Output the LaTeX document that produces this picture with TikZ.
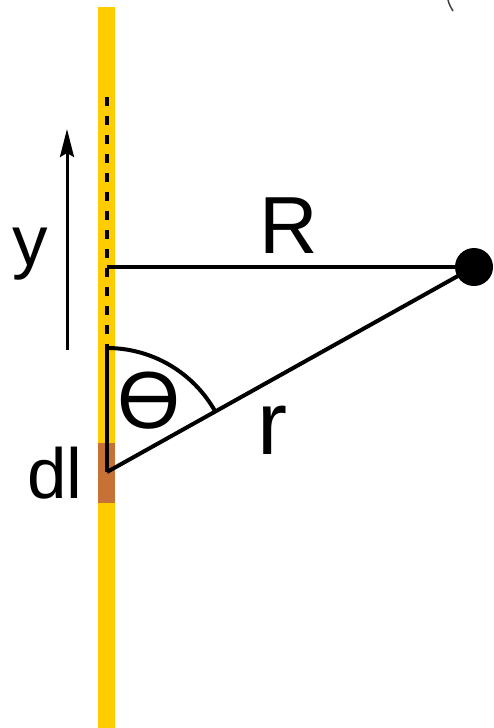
\documentclass[tikz,border=0pt]{standalone}
\usepackage{fontspec}
\setmainfont{Liberation Sans}
\usetikzlibrary{arrows.meta}
\definecolor{wireyellow}{HTML}{FFCC00}
\definecolor{segbrown}{HTML}{C87137}
\begin{document}
\begin{tikzpicture}[x=1pt,y=-1pt,
  wire/.style={fill=wireyellow,draw=none},
  seg/.style={fill=segbrown,draw=none},
  thick line/.style={line width=4pt,black},
  lbl/.style={inner sep=0pt,anchor=base,text=black},
]
\useasboundingbox (0,0) rectangle (493,728);
% wire
\fill[wire] (98,7) rectangle (115,728);
\fill[seg] (98,443) rectangle (115,503);
% key points
\coordinate (top) at (107,97);
\coordinate (F) at (107,267);
\coordinate (A) at (107,348);
\coordinate (V) at (107,472);
\node[circle,fill=black,minimum size=38pt,inner sep=0pt] (P) at (474,267) {};
% dashed continuation
\draw[line width=3.8pt,dash pattern=on 9pt off 10pt] (top) -- (A);
% lines
\draw[thick line] (F) -- (P.center);
\draw[thick line] (A) -- (V);
\draw[thick line,line join=miter] (V) -- (P.center);
\draw[thick line] (A) arc[start angle=-90,end angle=-29.25,radius=124];
% y arrow
\coordinate (ya) at (67,350);
\coordinate (yb) at (67,129);
\draw[line width=3pt,-{Stealth[length=28pt,width=14pt,inset=4pt]}] (ya) -- (yb);
% labels
\node[lbl,font=\fontsize{71}{80}\selectfont] (ylab) at (30,265) {y};
\node[lbl,font=\fontsize{81}{90}\selectfont] (Rlab) at (289,253) {R};
\node[lbl,font=\fontsize{90}{100}\selectfont] (rlab) at (272,454) {r};
\node[lbl,font=\fontsize{81}{90}\selectfont] (tlab) at (149.5,428) {Ɵ};
\node[lbl,font=\fontsize{71}{80}\selectfont] (dllab) at (55,498) {dl};
% fragment top right
\coordinate (fa) at (448,0);
\coordinate (fb) at (453,11);
\draw[line width=1.5pt,black!75] (fa) .. controls (449.5,5) .. (fb);
\end{tikzpicture}
\end{document}
